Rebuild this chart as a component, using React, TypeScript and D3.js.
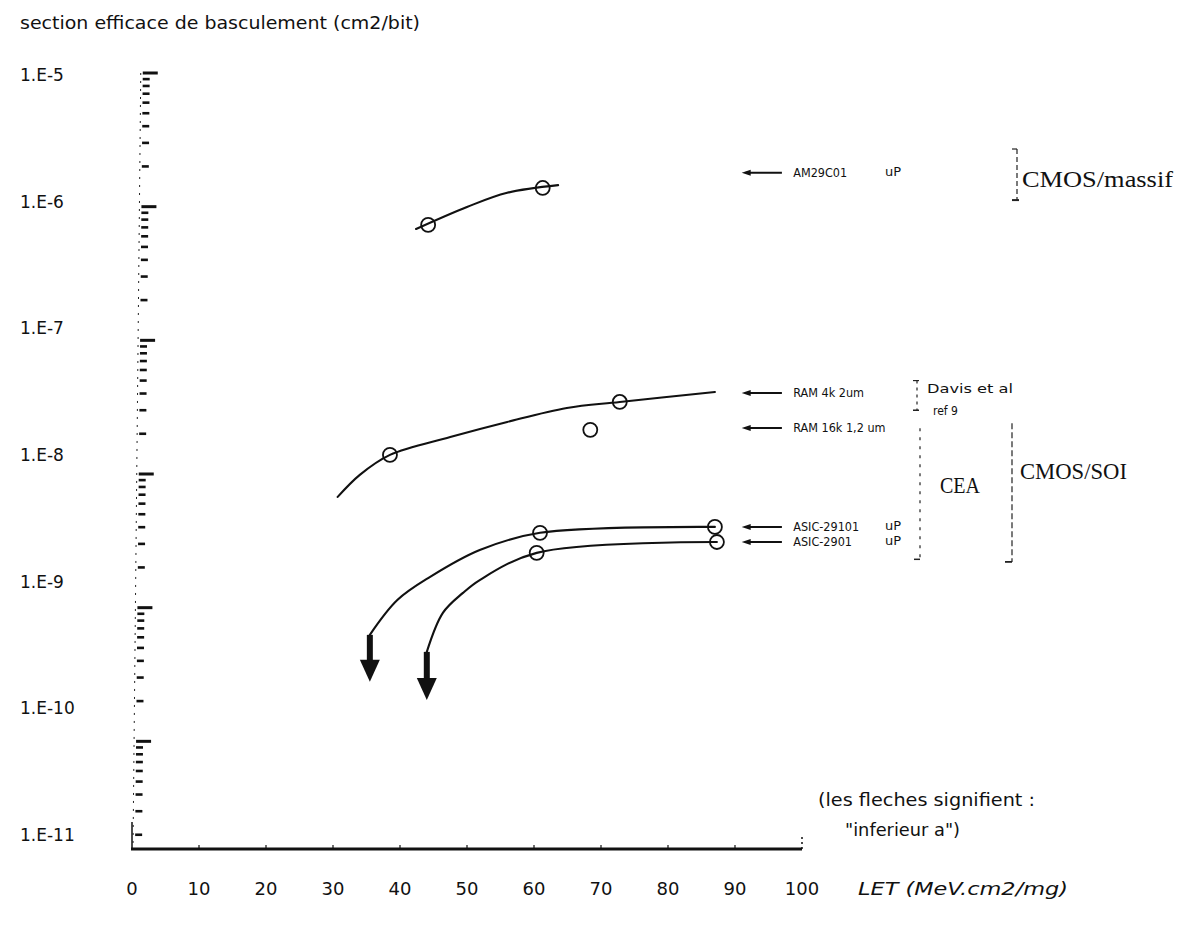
import * as d3 from "d3";

const W = 1185;
const H = 930;
const AXIS_Y = 849;

// axis ticks / labels
const letTicks = [0, 10, 20, 30, 40, 50, 60, 70, 80, 90, 100];
const decadeValues = [1e-11, 1e-10, 1e-9, 1e-8, 1e-7, 1e-6, 1e-5];
const decadeLabels = ["1.E-11", "1.E-10", "1.E-9", "1.E-8", "1.E-7", "1.E-6", "1.E-5"];

// AM29C01 uP (CMOS/massif)
const amLet = [42.4, 50.0, 56.0, 63.6];
const amSigma = [6.81e-7, 9.95e-7, 1.27e-6, 1.45e-6];
const amPtLet = [44.2, 61.3];
const amPtSigma = [7.3e-7, 1.38e-6];

// RAM 4k 2um
const ram4kLet = [30.7, 34.0, 38.5, 47.5, 56.0, 64.9, 72.8, 87.0];
const ram4kSigma = [6.74e-9, 9.85e-9, 1.39e-8, 1.89e-8, 2.45e-8, 3.12e-8, 3.46e-8, 4.11e-8];
const ram4kPtLet = [38.5, 72.8];
const ram4kPtSigma = [1.39e-8, 3.46e-8];

// RAM 16k 1,2 um
const ram16kPtLet = [68.4];
const ram16kPtSigma = [2.14e-8];

// ASIC-29101 uP
const asic29101Let = [35.5, 39.6, 44.5, 51.9, 60.9, 87.0];
const asic29101Sigma = [6.26e-10, 1.14e-9, 1.7e-9, 2.7e-9, 3.63e-9, 4.02e-9];
const asic29101PtLet = [60.9, 87.0];
const asic29101PtSigma = [3.63e-9, 4.02e-9];

// ASIC-2901 uP
const asic2901Let = [44.0, 46.4, 49.4, 51.9, 60.4, 87.3];
const asic2901Sigma = [4.67e-10, 9.14e-10, 1.29e-9, 1.61e-9, 2.57e-9, 3.1e-9];
const asic2901PtLet = [60.4, 87.3];
const asic2901PtSigma = [2.57e-9, 3.1e-9];

// "inferieur a" arrows
const arrowLet = [35.5, 44.0];
const arrowFrom = [6.26e-10, 4.67e-10];
const arrowTo = [2.79e-10, 2.04e-10];

// right-hand device labels
const deviceNames = ["AM29C01", "RAM 4k 2um", "RAM 16k 1,2 um", "ASIC-29101", "ASIC-2901"];
const deviceSuffix = ["uP", "", "", "uP", "uP"];
const deviceSigma = [1.79e-6, 4.04e-8, 2.21e-8, 4.02e-9, 3.1e-9];

const x = d3.scaleLinear().domain([0, 100]).range([132, 802]);
const y = d3.scaleLog().domain([1e-11, 1e-5]).range([875, 73]);
// typed decade labels sit a bit off the tick marks
const yLabel = d3.scaleLog().domain([1e-11, 1e-5]).range([835, 75]);

const SANS = "'DejaVu Sans', 'Liberation Sans', sans-serif";
const NARROW = "'Liberation Sans Narrow', 'DejaVu Sans Condensed', 'Liberation Sans', sans-serif";
const SERIF = "'Liberation Serif', 'DejaVu Serif', serif";

const curve = d3
  .line<[number, number]>()
  .x((d) => x(d[0]))
  .y((d) => y(d[1]))
  .curve(d3.curveCatmullRom.alpha(0.5));

const zip = (a: number[], b: number[]) => a.map((v, i) => [v, b[i]] as [number, number]);

const curves = [
  zip(amLet, amSigma),
  zip(ram4kLet, ram4kSigma),
  zip(asic29101Let, asic29101Sigma),
  zip(asic2901Let, asic2901Sigma),
];

const points = [
  ...zip(amPtLet, amPtSigma),
  ...zip(ram4kPtLet, ram4kPtSigma),
  ...zip(ram16kPtLet, ram16kPtSigma),
  ...zip(asic29101PtLet, asic29101PtSigma),
  ...zip(asic2901PtLet, asic2901PtSigma),
];

// log ticks: 1..9 x each decade
const yTicks: { v: number; major: boolean }[] = [];
for (let e = -11; e <= -6; e++) {
  for (let m = 1; m <= 9; m++) yTicks.push({ v: m * Math.pow(10, e), major: m === 1 });
}
yTicks.push({ v: 1e-5, major: true });

const leanX = (py: number) => 135 + (AXIS_Y - py) * 0.01;

export default function App() {
  const arrowL = x(91);
  const arrowR = x(97);
  const textX = x(98.7);

  return (
    <svg
      width={W}
      height={H}
      viewBox={`0 0 ${W} ${H}`}
      style={{ position: "absolute", left: 0, top: 0, background: "#fff" }}
    >
      <rect width={W} height={H} fill="#fff" />

      {/* title */}
      <text x={20} y={29} fontFamily={SANS} fontSize={17} fill="#111" textLength={400} lengthAdjust="spacingAndGlyphs">
        section efficace de basculement (cm2/bit)
      </text>

      {/* y axis: dashed spine + log ticks */}
      <line x1={leanX(73) - 2} y1={73} x2={133} y2={AXIS_Y} stroke="#222" strokeWidth={1} strokeDasharray="2 6" />
      <line x1={132} y1={822} x2={132} y2={AXIS_Y} stroke="#111" strokeWidth={1.5} />
      {yTicks
        .filter((t) => y(t.v) <= AXIS_Y)
        .map((t, i) => {
          const py = y(t.v);
          const lx = leanX(py);
          return (
            <line
              key={i}
              x1={lx}
              x2={lx + (t.major ? 15 : 7)}
              y1={py}
              y2={py}
              stroke="#111"
              strokeWidth={t.major ? 3 : 2.6}
            />
          );
        })}
      {decadeValues.map((v, i) => (
        <text key={i} x={20} y={yLabel(v) + 6} fontFamily={SANS} fontSize={17} fill="#111">
          {decadeLabels[i]}
        </text>
      ))}

      {/* x axis */}
      <line x1={131} x2={x(100)} y1={AXIS_Y} y2={AXIS_Y} stroke="#111" strokeWidth={3} />
      <line x1={x(100)} x2={x(100)} y1={837} y2={AXIS_Y} stroke="#111" strokeWidth={1.5} strokeDasharray="2 3" />
      {letTicks.slice(1, -1).map((t) => (
        <line key={t} x1={x(t)} x2={x(t)} y1={AXIS_Y - 4} y2={AXIS_Y} stroke="#111" strokeWidth={1.2} />
      ))}
      {letTicks.map((t) => (
        <text key={t} x={x(t)} y={895} textAnchor="middle" fontFamily={SANS} fontSize={18} fill="#111">
          {t}
        </text>
      ))}
      <text x={858} y={895} fontFamily={SANS} fontSize={18} fill="#111" fontStyle="italic" textLength={210} lengthAdjust="spacingAndGlyphs">
        LET (MeV.cm2/mg)
      </text>

      {/* curves */}
      {curves.map((c, i) => (
        <path key={i} d={curve(c) ?? ""} fill="none" stroke="#111" strokeWidth={2.1} strokeLinecap="round" />
      ))}

      {/* measured points */}
      {points.map((p, i) => (
        <circle key={i} cx={x(p[0])} cy={y(p[1])} r={7} fill="none" stroke="#111" strokeWidth={1.8} />
      ))}

      {/* "inferieur a" arrows */}
      {arrowLet.map((l, i) => {
        const ax = x(l);
        const y0 = y(arrowFrom[i]);
        const y1 = y(arrowTo[i]);
        const head = 22;
        return (
          <g key={i}>
            <line x1={ax} x2={ax} y1={y0} y2={y1 - head + 2} stroke="#111" strokeWidth={6} />
            <path d={`M${ax - 10},${y1 - head} L${ax + 10},${y1 - head} L${ax},${y1} Z`} fill="#111" />
          </g>
        );
      })}

      {/* device labels with pointing arrows */}
      {deviceNames.map((name, i) => {
        const py = y(deviceSigma[i]);
        return (
          <g key={name}>
            <line x1={arrowL + 4} x2={arrowR} y1={py} y2={py} stroke="#111" strokeWidth={2} />
            <path d={`M${arrowL},${py} L${arrowL + 9},${py - 3} L${arrowL + 9},${py + 3} Z`} fill="#111" />
            <text x={textX} y={py + 4.5} fontFamily={NARROW} fontSize={12.5} fill="#111">
              {name}
            </text>
            {deviceSuffix[i] && (
              <text x={885} y={py + 3} fontFamily={SANS} fontSize={13} fill="#111">
                {deviceSuffix[i]}
              </text>
            )}
          </g>
        );
      })}

      {/* CMOS/massif bracket */}
      <line x1={1017} x2={1017} y1={y(2.7e-6)} y2={y(1.12e-6)} stroke="#222" strokeWidth={1.2} strokeDasharray="5 3" />
      <line x1={1012} x2={1017} y1={y(2.7e-6)} y2={y(2.7e-6)} stroke="#222" strokeWidth={1.2} />
      <line x1={1012} x2={1019} y1={y(1.12e-6)} y2={y(1.12e-6)} stroke="#222" strokeWidth={2} />
      <text x={1022} y={y(1.6e-6) + 8} fontFamily={SERIF} fontSize={23} fill="#111" textLength={151} lengthAdjust="spacingAndGlyphs">
        CMOS/massif
      </text>

      {/* Davis et al, ref 9 */}
      <line x1={917} x2={917} y1={y(5.0e-8)} y2={y(3.0e-8)} stroke="#222" strokeWidth={1.2} strokeDasharray="3 4" />
      <line x1={913} x2={919} y1={y(5.0e-8)} y2={y(5.0e-8)} stroke="#222" strokeWidth={1.2} />
      <line x1={913} x2={919} y1={y(3.0e-8)} y2={y(3.0e-8)} stroke="#222" strokeWidth={1.5} />
      <text x={927} y={y(4.4e-8) + 5} fontFamily={NARROW} fontSize={12} fill="#111" textLength={86} lengthAdjust="spacingAndGlyphs">
        Davis et al
      </text>
      <text x={933} y={y(3.0e-8) + 5} fontFamily={NARROW} fontSize={12} fill="#111">
        ref 9
      </text>

      {/* CEA bracket */}
      <line x1={920} x2={920} y1={y(2.2e-8)} y2={y(2.3e-9)} stroke="#222" strokeWidth={1.2} strokeDasharray="3 6" />
      <line x1={914} x2={920} y1={y(2.3e-9)} y2={y(2.3e-9)} stroke="#222" strokeWidth={1.5} />
      <text x={940} y={y(8.3e-9) + 8} fontFamily={SERIF} fontSize={23} fill="#111" textLength={40} lengthAdjust="spacingAndGlyphs">
        CEA
      </text>

      {/* CMOS/SOI bracket */}
      <line x1={1012} x2={1012} y1={y(2.4e-8)} y2={y(2.2e-9)} stroke="#222" strokeWidth={1.2} strokeDasharray="6 3" />
      <line x1={1005} x2={1012} y1={y(2.2e-9)} y2={y(2.2e-9)} stroke="#222" strokeWidth={1.8} />
      <text x={1020} y={y(1.06e-8) + 8} fontFamily={SERIF} fontSize={23} fill="#111" textLength={107} lengthAdjust="spacingAndGlyphs">
        CMOS/SOI
      </text>

      {/* note */}
      <text x={818} y={806} fontFamily={SANS} fontSize={17} fill="#111" textLength={217} lengthAdjust="spacingAndGlyphs">
        (les fleches signifient :
      </text>
      <text x={845} y={836} fontFamily={SANS} fontSize={17} fill="#111" textLength={115} lengthAdjust="spacingAndGlyphs">
        "inferieur a")
      </text>
    </svg>
  );
}
